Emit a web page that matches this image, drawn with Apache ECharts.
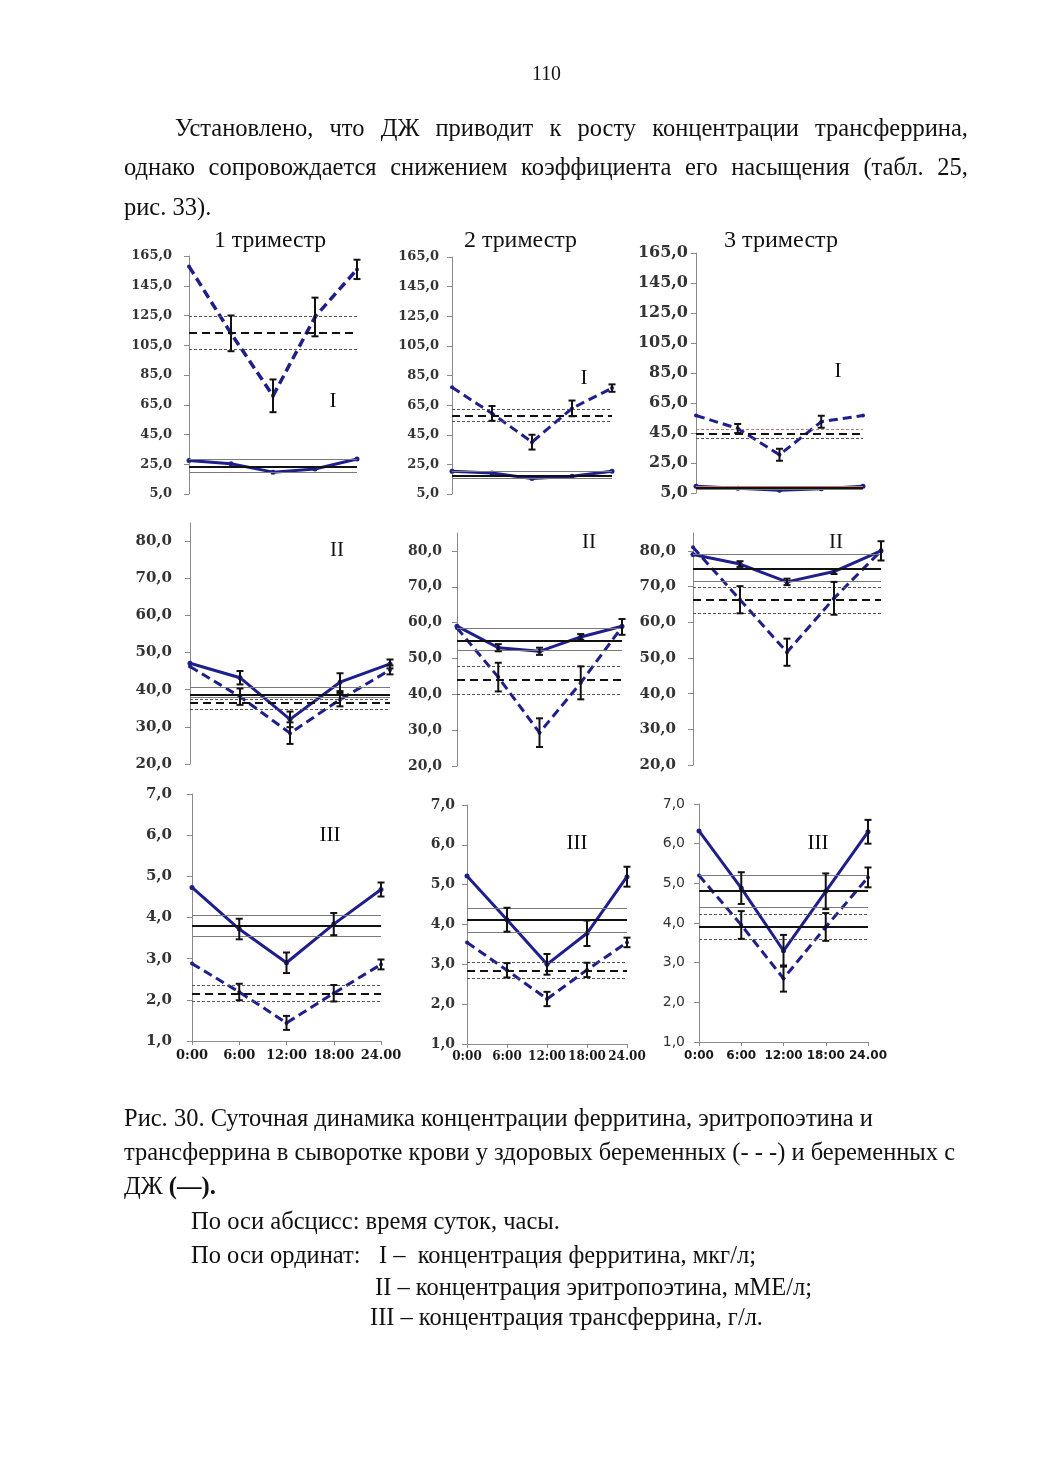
<!DOCTYPE html>
<html><head><meta charset="utf-8">
<script src="https://cdn.jsdelivr.net/npm/echarts@6/dist/echarts.min.js"></script>
<style>
html,body{margin:0;padding:0;background:#fff;}
#page{position:relative;width:1040px;height:1471px;overflow:hidden;background:#fff;}
#chart{position:absolute;left:0;top:0;width:1040px;height:1471px;}
.t{position:absolute;white-space:nowrap;font-family:"Liberation Serif","Times New Roman",serif;color:#111;line-height:1;transform-origin:0 50%;}
</style></head>
<body><div id="page"><div id="chart"></div></div>
<script>
// ---------- categories & ticks ----------
const times = ['0:00', '6:00', '12:00', '18:00', '24.00'];
const trimesterTitles = ['1 триместр', '2 триместр', '3 триместр'];
const ferrTicks = [5, 25, 45, 65, 85, 105, 125, 145, 165];
const epoTicks = [20, 30, 40, 50, 60, 70, 80];
const trfTicks = [1, 2, 3, 4, 5, 6, 7];

// ---------- I: ferritin ----------
const ferrHealthyT1 = [158, 113, 71, 124, 156];
const ferrHealthyErrT1 = [null, 12, 11, 13, 6.5];
const ferrDjT1 = [27.5, 25.3, 19.7, 21.8, 28.5];
const ferrDjErrT1 = [null, null, null, null, null];
const ferrHealthyRefT1 = [113.5, 102.5, 124.2]; // mean, lower, upper
const ferrDjRefT1 = [23.5, 19.3, 28.2];

const ferrHealthyT2 = [77, 59.4, 40, 62.8, 76.5];
const ferrHealthyErrT2 = [null, 5, 5, 5.3, 2.5];
const ferrDjT2 = [20.4, 19.2, 15.4, 17, 20.4];
const ferrDjErrT2 = [null, null, null, null, null];
const ferrHealthyRefT2 = [58.1, 54.2, 62.3];
const ferrDjRefT2 = [17.5, 15.4, 20.4];

const ferrHealthyT3 = [56.7, 48, 30.5, 52.5, 56.7];
const ferrHealthyErrT3 = [null, 3, 4, 4, null];
const ferrDjT3 = [9.5, 8.2, 6.8, 7.8, 9.5];
const ferrDjErrT3 = [null, null, null, null, null];
const ferrHealthyRefT3 = [44.3, 41.4, 47.4];
const ferrDjRefT3 = [8.3, 7.4, 9.6];

// ---------- II: erythropoietin ----------
const epoHealthyT1 = [46.2, 38.1, 28.3, 37.3, 45.3];
const epoHealthyErrT1 = [null, 2.2, 2.9, 1.8, 1.2];
const epoDjT1 = [47.1, 43.2, 32, 42, 46.9];
const epoDjErrT1 = [null, 1.8, 2.1, 2.4, 1.2];
const epoHealthyRefT1 = [36.6, 34.6, 37.3];
const epoDjRefT1 = [38.7, 38.0, 40.7];

const epoHealthyT2 = [58.5, 44.8, 29.3, 43.2, 58.8];
const epoHealthyErrT2 = [null, 4, 4, 4.6, 2.2];
const epoDjT2 = [59, 53, 52, 56, 59];
const epoDjErrT2 = [null, 1, 1, 0.8, null];
const epoHealthyRefT2 = [44, 40.1, 47.7];
const epoDjRefT2 = [55, 52.2, 58.3];

const epoHealthyT3 = [81, 66.3, 51.6, 66.7, 80];
const epoHealthyErrT3 = [null, 3.8, 3.8, 4.6, 2.7];
const epoDjT3 = [79, 76.3, 71.3, 74.2, 80];
const epoDjErrT3 = [null, 0.8, 0.9, 0.7, null];
const epoHealthyRefT3 = [66.2, 62.5, 69.9];
const epoDjRefT3 = [75.1, 71.5, 79.1];

// ---------- III: transferrin ----------
const trfHealthyT1 = [2.88, 2.19, 1.44, 2.16, 2.86];
const trfHealthyErrT1 = [null, 0.2, 0.17, 0.2, 0.12];
const trfDjT1 = [4.73, 3.72, 2.9, 3.84, 4.68];
const trfDjErrT1 = [null, 0.25, 0.25, 0.27, 0.17];
const trfHealthyRefT1 = [2.15, 1.97, 2.35];
const trfDjRefT1 = [3.81, 3.55, 4.06];

const trfHealthyT2 = [3.55, 2.85, 2.13, 2.86, 3.55];
const trfHealthyErrT2 = [null, 0.18, 0.18, 0.18, 0.12];
const trfDjT2 = [5.22, 4.12, 3.0, 3.78, 5.2];
const trfDjErrT2 = [null, 0.3, 0.26, 0.32, 0.25];
const trfHealthyRefT2 = [2.84, 2.64, 3.05];
const trfDjRefT2 = [4.11, 3.81, 4.41];

const trfHealthyT3 = [5.2, 3.95, 2.6, 3.9, 5.15];
const trfHealthyErrT3 = [null, 0.35, 0.33, 0.35, 0.25];
const trfDjT3 = [6.32, 4.88, 3.3, 4.8, 6.3];
const trfDjErrT3 = [null, 0.4, 0.4, 0.45, 0.3];
const trfHealthyRefT3 = [3.9, 3.6, 4.21];
const trfDjRefT3 = [4.82, 4.4, 5.21];

// ---------- layout / styles ----------
const BLUE = '#1f1f8c';
const panels = [
  {g:[189,256,168,238], min:5, max:165, ticks:ferrTicks, h:ferrHealthyT1, he:ferrHealthyErrT1, d:ferrDjT1, de:ferrDjErrT1, hr:ferrHealthyRefT1, dr:ferrDjRefT1, mark:'I', mp:[333,401], lab:['DejaVu Serif',13,'bold',17], lw:3.5},
  {g:[452,257,160,237], min:5, max:165, ticks:ferrTicks, h:ferrHealthyT2, he:ferrHealthyErrT2, d:ferrDjT2, de:ferrDjErrT2, hr:ferrHealthyRefT2, dr:ferrDjRefT2, mark:'I', mp:[584,378], lab:['DejaVu Serif',13,'bold',13], lw:3},
  {g:[696,253,167,240], min:5, max:165, ticks:ferrTicks, h:ferrHealthyT3, he:ferrHealthyErrT3, d:ferrDjT3, de:ferrDjErrT3, hr:ferrHealthyRefT3, dr:ferrDjRefT3, mark:'I', mp:[838,371], lab:['DejaVu Serif',16,'bold',8], lw:3, redUpper:true},
  {g:[190,523,200,241], min:20, max:84.8, ticks:epoTicks, h:epoHealthyT1, he:epoHealthyErrT1, d:epoDjT1, de:epoDjErrT1, hr:epoHealthyRefT1, dr:epoDjRefT1, mark:'II', mp:[337,550], lab:['DejaVu Serif',15,'bold',18], lw:3},
  {g:[457,533,165,233], min:20, max:85, ticks:epoTicks, h:epoHealthyT2, he:epoHealthyErrT2, d:epoDjT2, de:epoDjErrT2, hr:epoHealthyRefT2, dr:epoDjRefT2, mark:'II', mp:[589,542], lab:['DejaVu Serif',14,'bold',15], lw:3},
  {g:[693,533,188,232], min:20, max:85, ticks:epoTicks, h:epoHealthyT3, he:epoHealthyErrT3, d:epoDjT3, de:epoDjErrT3, hr:epoHealthyRefT3, dr:epoDjRefT3, mark:'II', mp:[836,542], lab:['DejaVu Serif',15,'bold',17], lw:3},
  {g:[192,794,189,247], min:1, max:7, ticks:trfTicks, h:trfHealthyT1, he:trfHealthyErrT1, d:trfDjT1, de:trfDjErrT1, hr:trfHealthyRefT1, dr:trfDjRefT1, mark:'III', mp:[330,835], lab:['DejaVu Serif',15,'bold',20], xl:['DejaVu Serif',13,8], lw:3},
  {g:[467,805,160,239], min:1, max:7, ticks:trfTicks, h:trfHealthyT2, he:trfHealthyErrT2, d:trfDjT2, de:trfDjErrT2, hr:trfHealthyRefT2, dr:trfDjRefT2, mark:'III', mp:[577,843], lab:['DejaVu Serif',14,'bold',12], xl:['DejaVu Serif',12,7], lw:3},
  {g:[699,804,169,238], min:1, max:7, ticks:trfTicks, h:trfHealthyT3, he:trfHealthyErrT3, d:trfDjT3, de:trfDjErrT3, hr:trfHealthyRefT3, dr:trfDjRefT3, mark:'III', mp:[818,843], lab:['DejaVu Sans',14,'normal',14], xl:['DejaVu Sans',12,8], lw:3, solidHealthyMean:true}
];

function errData(vals, errs) {
  const out = [];
  vals.forEach((v, k) => { if (errs[k] != null) out.push([k, v - errs[k], v + errs[k]]); });
  return out;
}
function renderErr(params, api) {
  const i = api.value(0);
  const top = api.coord([i, api.value(2)]);
  const bot = api.coord([i, api.value(1)]);
  const cw = 3.5;
  const st = {stroke: '#111', lineWidth: 2};
  return {type: 'group', children: [
    {type: 'line', shape: {x1: top[0], y1: top[1], x2: bot[0], y2: bot[1]}, style: st},
    {type: 'line', shape: {x1: top[0] - cw, y1: top[1], x2: top[0] + cw, y2: top[1]}, style: st},
    {type: 'line', shape: {x1: bot[0] - cw, y1: bot[1], x2: bot[0] + cw, y2: bot[1]}, style: st}
  ]};
}
const fmt = v => v.toFixed(1).replace('.', ',');

const grid = [], xAxis = [], yAxis = [], series = [];
panels.forEach((p, i) => {
  grid.push({left: p.g[0], top: p.g[1], width: p.g[2], height: p.g[3]});
  xAxis.push({
    type: 'category', gridIndex: i, data: times, boundaryGap: false,
    axisLine: {show: !!p.xl, lineStyle: {color: '#8a8a8a', width: 1}},
    axisTick: {show: !!p.xl, length: 4, lineStyle: {color: '#8a8a8a'}},
    axisLabel: p.xl ? {show: true, interval: 0, margin: p.xl[2], fontFamily: p.xl[0], fontSize: p.xl[1], fontWeight: 'bold', color: '#1a1a1a'} : {show: false},
    splitLine: {show: false}
  });
  yAxis.push({
    type: 'value', gridIndex: i, min: p.min, max: p.max,
    axisLine: {show: true, lineStyle: {color: '#8a8a8a', width: 1}},
    axisTick: {show: true, length: 5, customValues: p.ticks, lineStyle: {color: '#8a8a8a'}},
    axisLabel: {customValues: p.ticks, formatter: fmt, margin: p.lab[3], fontFamily: p.lab[0], fontSize: p.lab[1], fontWeight: p.lab[2], color: '#333'},
    splitLine: {show: false}
  });
  const grayCol = '#7a7a7a';
  const redCol = '#c87a7a';
  series.push({
    type: 'line', xAxisIndex: i, yAxisIndex: i, data: [], silent: true, z: 1,
    markLine: {silent: true, symbol: 'none', label: {show: false}, animation: false,
      data: [
        {yAxis: p.dr[1], lineStyle: {color: grayCol, width: 1.2, type: 'solid'}},
        {yAxis: p.dr[2], lineStyle: {color: p.redUpper ? redCol : grayCol, width: 1.2, type: 'solid'}},
        {yAxis: p.dr[0], lineStyle: {color: '#111', width: 2, type: 'solid'}},
        {yAxis: p.hr[1], lineStyle: {color: '#555', width: 1.2, type: [3, 2]}},
        {yAxis: p.hr[2], lineStyle: {color: p.redUpper ? redCol : '#555', width: 1.2, type: [3, 2]}},
        {yAxis: p.hr[0], lineStyle: {color: '#111', width: 2, type: p.solidHealthyMean ? 'solid' : [8, 5]}}
      ]}
  });
  series.push({
    type: 'line', xAxisIndex: i, yAxisIndex: i, data: p.h, silent: true, z: 3,
    symbol: 'circle', symbolSize: 4, itemStyle: {color: BLUE},
    lineStyle: {color: BLUE, width: p.lw, type: [9, 5]}
  });
  series.push({
    type: 'line', xAxisIndex: i, yAxisIndex: i, data: p.d, silent: true, z: 3,
    symbol: 'circle', symbolSize: 5, itemStyle: {color: BLUE},
    lineStyle: {color: BLUE, width: 3, type: 'solid'}
  });
  series.push({type: 'custom', xAxisIndex: i, yAxisIndex: i, renderItem: renderErr, data: errData(p.h, p.he), encode: {x: 0, y: [1, 2]}, z: 5, silent: true, clip: false});
  series.push({type: 'custom', xAxisIndex: i, yAxisIndex: i, renderItem: renderErr, data: errData(p.d, p.de), encode: {x: 0, y: [1, 2]}, z: 5, silent: true, clip: false});
});

const chart = echarts.init(document.getElementById('chart'), null, {renderer: 'canvas'});
chart.setOption({
  backgroundColor: '#fff', animation: false,
  grid, xAxis, yAxis, series,
  graphic: panels.map(p => ({type: 'text', x: p.mp[0], y: p.mp[1], z: 10, silent: true,
    style: {text: p.mark, font: '21px "Liberation Serif"', fill: '#111', align: 'center', verticalAlign: 'middle'}}))
});

// ---------- page text ----------
const page = document.getElementById('page');
function mk(html, left, cy, size) {
  const d = document.createElement('div');
  d.className = 't';
  d.style.left = left + 'px';
  d.style.fontSize = size + 'px';
  d.style.top = (cy - 0.51 * size) + 'px';
  d.innerHTML = html;
  page.appendChild(d);
  return d;
}
function fitLine(html, left, right, cy, size) {
  const d = mk(html, left, cy, size);
  const w = d.getBoundingClientRect().width;
  const s = (right - left) / w;
  d.style.transform = 'scaleX(' + s.toFixed(4) + ')';
  return s;
}
function scaledLine(html, left, cy, size, s) {
  const d = mk(html, left, cy, size);
  d.style.transform = 'scaleX(' + s.toFixed(4) + ')';
}
function justLine(html, left, right, cy, size, s) {
  const d = mk(html, left, cy, size);
  const w = d.getBoundingClientRect().width;
  const ss = Math.min(s, (right - left) / w);
  d.style.whiteSpace = 'normal';
  d.style.width = ((right - left) / ss) + 'px';
  d.style.textAlign = 'justify';
  d.style.textAlignLast = 'justify';
  d.style.transform = 'scaleX(' + ss.toFixed(4) + ')';
}
const TS = 25;
const S = fitLine('Рис. 30. Суточная динамика концентрации ферритина, эритропоэтина и', 124, 873, 1118, TS);
fitLine('трансферрина в сыворотке крови у здоровых беременных (- - -) и беременных с', 124, 955, 1152, TS);
scaledLine('ДЖ <b>(—).</b>', 124, 1186, TS, S);
fitLine('По оси абсцисс: время суток, часы.', 191, 560, 1221, TS);
fitLine('По оси ординат:&nbsp;&nbsp; I –&nbsp; концентрация ферритина, мкг/л;', 191, 756, 1255, TS);
fitLine('II – концентрация эритропоэтина, мМЕ/л;', 375, 812, 1287, TS);
fitLine('III – концентрация трансферрина, г/л.', 370, 763, 1317, TS);

fitLine('110', 532, 561, 73, 22);
justLine('Установлено, что ДЖ приводит к росту концентрации трансферрина,', 175, 968, 128, TS, S);
justLine('однако сопровождается снижением коэффициента его насыщения (табл. 25,', 124, 968, 167, TS, S);
scaledLine('рис. 33).', 124, 207, TS, S);

fitLine(trimesterTitles[0], 214, 326, 240, 23);
fitLine(trimesterTitles[1], 464, 577, 240, 23);
fitLine(trimesterTitles[2], 724, 838, 240, 23);
</script>
</body></html>
